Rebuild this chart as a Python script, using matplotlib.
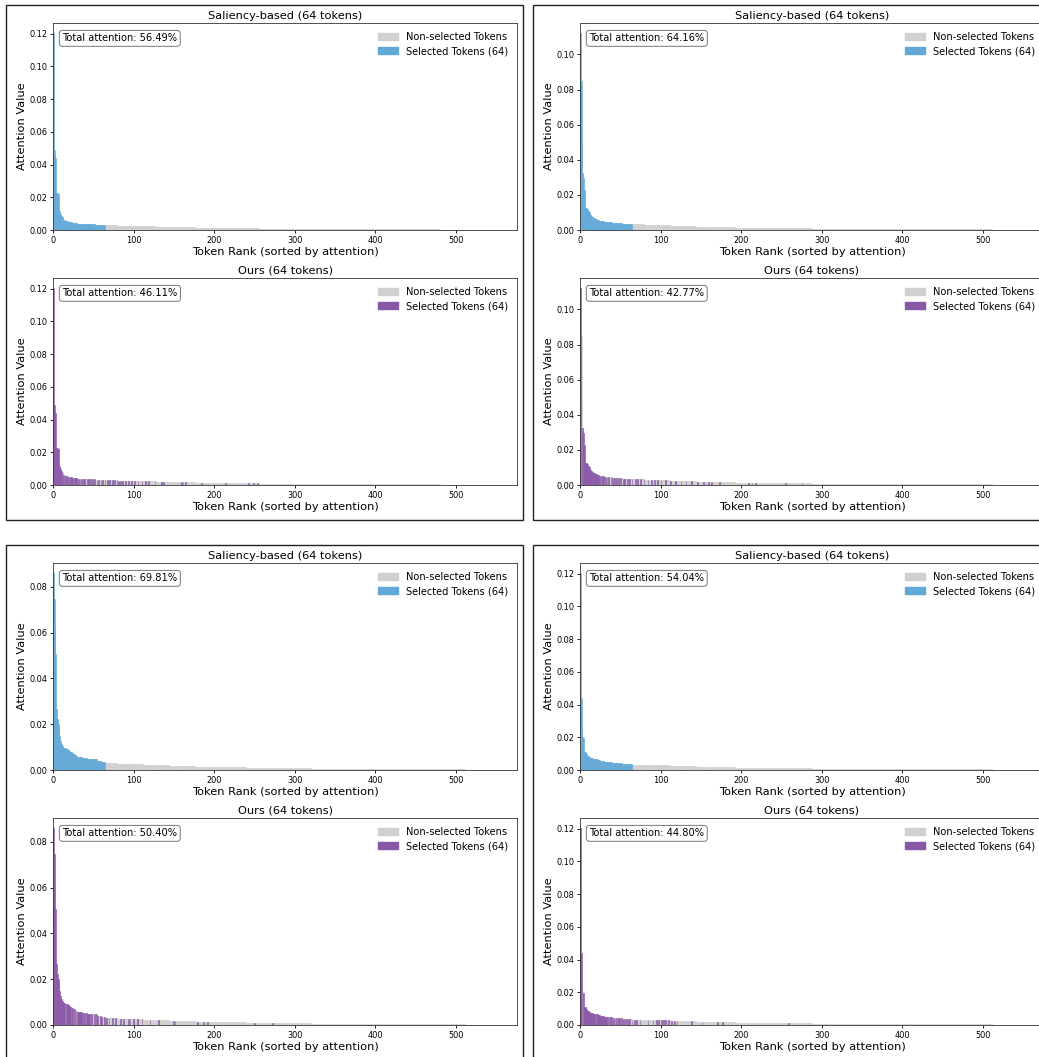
import numpy as np
import matplotlib
matplotlib.use('Agg')
import matplotlib.pyplot as plt
from matplotlib.patches import Patch, Rectangle

N_TOKENS = 576
N_SELECT = 64

# sorted attention (rank 0 first): first ranks read one by one, then (count, level) runs
A_HEAD = [0.1205, 0.0486, 0.0446, 0.0440, 0.0229, 0.0225, 0.0221, 0.0135, 0.0118, 0.0100,
          0.0088, 0.0078, 0.0070, 0.0064, 0.0060, 0.0057, 0.0055, 0.0053, 0.0051, 0.0050,
          0.0048, 0.0047, 0.0046, 0.0045, 0.0044, 0.0043, 0.0042, 0.0042, 0.0041, 0.0040]
A_RUNS = [(10, 0.0038), (12, 0.0034), (12, 0.0031),
          (16, 0.0029), (16, 0.0026), (16, 0.0024), (16, 0.0022), (16, 0.0020), (16, 0.0018),
          (16, 0.0016), (16, 0.0015), (16, 0.0013), (16, 0.0012), (16, 0.0011), (16, 0.0010),
          (32, 0.0009), (32, 0.0008), (32, 0.0007), (32, 0.0006), (32, 0.0005),
          (32, 0.0004), (32, 0.0004), (32, 0.0003), (32, 0.0003), (32, 0.0002)]

B_HEAD = [0.1123, 0.0847, 0.0500, 0.0325, 0.0296, 0.0230, 0.0128, 0.0126, 0.0124, 0.0120,
          0.0110, 0.0100, 0.0092, 0.0085, 0.0080, 0.0075, 0.0071, 0.0067, 0.0064, 0.0062,
          0.0060, 0.0058, 0.0056, 0.0055, 0.0054, 0.0053, 0.0052, 0.0051, 0.0050, 0.0049]
B_RUNS = [(10, 0.0046), (12, 0.0042), (12, 0.0037),
          (16, 0.0032), (16, 0.0029), (16, 0.0026), (16, 0.0024), (16, 0.0021), (16, 0.0019),
          (16, 0.0017), (16, 0.0015), (16, 0.0013), (16, 0.0012), (16, 0.0011), (16, 0.0010),
          (32, 0.0009), (32, 0.0008), (32, 0.0007), (32, 0.0006), (32, 0.0005),
          (32, 0.0004), (32, 0.0003), (32, 0.0003), (32, 0.0002), (32, 0.0002)]

C_HEAD = [0.0861, 0.0746, 0.0616, 0.0506, 0.0267, 0.0223, 0.0200, 0.0185, 0.0150, 0.0125,
          0.0115, 0.0105, 0.0100, 0.0098, 0.0096, 0.0094, 0.0092, 0.0090, 0.0088, 0.0086,
          0.0083, 0.0080, 0.0078, 0.0076, 0.0074, 0.0071, 0.0068, 0.0065, 0.0062, 0.0060]
C_RUNS = [(6, 0.0057), (6, 0.0052), (6, 0.0050), (6, 0.0046), (6, 0.0040), (4, 0.0036),
          (16, 0.0030), (16, 0.0027), (16, 0.0025), (16, 0.0023), (16, 0.0021), (16, 0.0019),
          (16, 0.0017), (16, 0.0015), (16, 0.0014), (16, 0.0012), (16, 0.0011), (16, 0.0010),
          (32, 0.0009), (32, 0.0008), (32, 0.0006), (32, 0.0005), (32, 0.0004),
          (32, 0.0004), (32, 0.0003), (32, 0.0003), (32, 0.0002), (32, 0.0002)]

D_HEAD = [0.1205, 0.0439, 0.0251, 0.0203, 0.0198, 0.0112, 0.0108, 0.0104, 0.0095, 0.0088,
          0.0083, 0.0079, 0.0076, 0.0074, 0.0072, 0.0071, 0.0070, 0.0069, 0.0068, 0.0067,
          0.0066, 0.0065, 0.0063, 0.0061, 0.0059, 0.0057, 0.0056, 0.0055, 0.0054, 0.0053]
D_RUNS = [(10, 0.0050), (12, 0.0045), (12, 0.0039),
          (16, 0.0033), (16, 0.0030), (16, 0.0028), (16, 0.0025), (16, 0.0022), (16, 0.0020),
          (16, 0.0018), (16, 0.0016), (16, 0.0015), (16, 0.0013), (16, 0.0012), (16, 0.0011),
          (32, 0.0010), (32, 0.0009), (32, 0.0008), (32, 0.0007), (32, 0.0006),
          (32, 0.0005), (32, 0.0004), (32, 0.0004), (32, 0.0003), (32, 0.0003)]

# ranks picked by our method
A_OURS = [0, 1, 2, 3, 4, 5, 6, 8, 9, 10, 12, 13, 15, 16, 18, 19, 21, 22, 24, 26,
          27, 29, 31, 33, 35, 37, 39, 42, 44, 46, 49, 51, 54, 56, 59, 61, 64, 67, 70, 73,
          76, 79, 81, 83, 86, 90, 93, 97, 101, 105, 110, 114, 118, 126, 134, 137, 159, 161, 164, 184,
          214, 242, 248, 253]
B_OURS = [0, 3, 4, 5, 6, 7, 8, 9, 10, 11, 12, 13, 14, 15, 16, 17, 18, 19, 20, 21,
          22, 23, 25, 27, 29, 31, 33, 35, 38, 40, 42, 45, 47, 50, 53, 55, 58, 61, 64, 68,
          71, 75, 79, 84, 88, 92, 96, 100, 106, 112, 118, 125, 131, 138, 145, 153, 159, 163, 173, 209,
          213, 217, 255, 275]
C_OURS = [0, 1, 3, 4, 5, 6, 7, 8, 9, 10, 11, 12, 13, 14, 16, 17, 18, 19, 20, 21,
          23, 24, 26, 28, 30, 31, 32, 34, 35, 36, 38, 39, 41, 42, 44, 45, 47, 48, 51, 53,
          55, 58, 60, 63, 66, 69, 73, 77, 83, 87, 93, 95, 99, 104, 110, 120, 130, 149, 151, 179,
          186, 191, 250, 272]
D_OURS = [0, 1, 4, 5, 6, 7, 8, 9, 10, 11, 12, 13, 14, 15, 16, 17, 18, 20, 21, 22,
          23, 24, 25, 26, 27, 28, 29, 30, 31, 32, 33, 35, 37, 39, 41, 43, 45, 47, 49, 51,
          53, 56, 58, 61, 64, 67, 70, 74, 84, 90, 94, 97, 101, 103, 106, 109, 113, 117, 120, 138,
          151, 170, 176, 258]

SAL_PCT = ['56.49', '64.16', '69.81', '54.04']
OURS_PCT = ['46.11', '42.77', '50.40', '44.80']

GRAY = '#d0d0d0'
BLUE = '#62a8d7'
PURPLE = '#8856a7'

W, H = 1039, 1057


def build(head, runs):
    vals = list(head)
    for count, v in runs:
        vals += [v] * count
    return np.array(vals[:N_TOKENS])


def rect(x0, y_top, w=464, h=207):
    return [x0 / W, 1 - (y_top + h) / H, w / W, h / H]


def draw(ax, vals, sel, color, title, pct):
    ranks = np.arange(len(vals))
    mask = np.isin(ranks, sel)
    ax.bar(ranks[~mask], vals[~mask], width=1, align='edge', color=GRAY,
           edgecolor=GRAY, linewidth=0.4)
    ax.bar(ranks[mask], vals[mask], width=1, align='edge', color=color,
           edgecolor=color, linewidth=0.4)
    ax.set_xlim(0, N_TOKENS)
    ax.set_xticks([0, 100, 200, 300, 400, 500])
    ax.set_title(title, fontsize=8.2, pad=3)
    ax.set_xlabel('Token Rank (sorted by attention)', fontsize=8.2, labelpad=1.5)
    ax.set_ylabel('Attention Value', fontsize=8.2, labelpad=2)
    ax.tick_params(labelsize=5.9, length=2.5, width=0.6, pad=1.5)
    for s in ax.spines.values():
        s.set_linewidth(0.6)
        s.set_color('#333333')
    handles = [Patch(color=GRAY, label='Non-selected Tokens'),
               Patch(color=color, label=f'Selected Tokens ({len(sel)})')]
    ax.legend(handles=handles, loc='upper right', frameon=False, fontsize=7.1,
              handlelength=2.0, labelspacing=0.45)
    ax.text(0.02, 0.95, f'Total attention: {pct}%', transform=ax.transAxes,
            ha='left', va='top', fontsize=7.1,
            bbox=dict(boxstyle='round,pad=0.3', facecolor='white', edgecolor='#777777', lw=0.7))


fig = plt.figure(figsize=(W / 100, H / 100), dpi=100)

groups = [(build(A_HEAD, A_RUNS), A_OURS, 53, 23),
          (build(B_HEAD, B_RUNS), B_OURS, 580, 23),
          (build(C_HEAD, C_RUNS), C_OURS, 53, 563),
          (build(D_HEAD, D_RUNS), D_OURS, 580, 563)]

for i, (vals, ours, x0, y0) in enumerate(groups):
    fig.add_artist(Rectangle(((x0 - 47) / W, 1 - (y0 + 497) / H), 517 / W, 515 / H,
                             transform=fig.transFigure, fill=False,
                             edgecolor='#222222', lw=1.0))
    ax1 = fig.add_axes(rect(x0, y0))
    draw(ax1, vals, list(range(N_SELECT)), BLUE, f'Saliency-based ({N_SELECT} tokens)', SAL_PCT[i])
    ax2 = fig.add_axes(rect(x0, y0 + 255))
    draw(ax2, vals, ours, PURPLE, f'Ours ({N_SELECT} tokens)', OURS_PCT[i])

fig.savefig('out.png', dpi=100)
